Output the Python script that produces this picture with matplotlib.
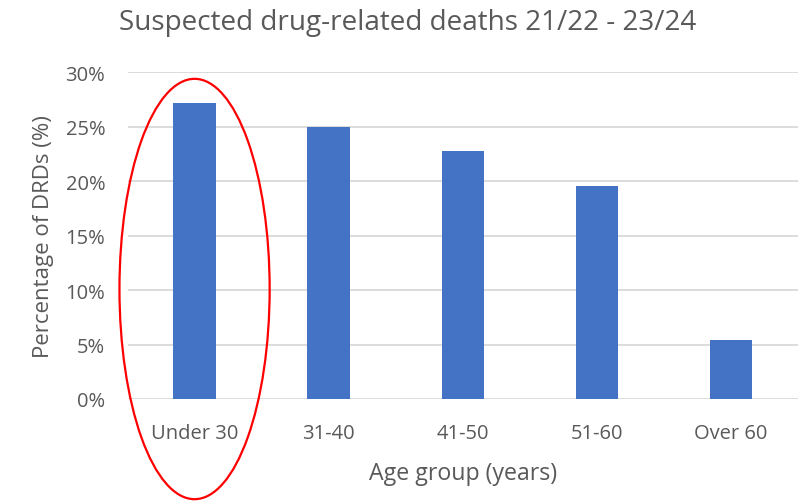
import matplotlib
matplotlib.use("Agg")
import matplotlib.pyplot as plt
from matplotlib.patches import Ellipse
from matplotlib.ticker import PercentFormatter

categories = ["Under 30", "31-40", "41-50", "51-60", "Over 60"]
values = [27.2, 25.0, 22.8, 19.6, 5.4]
yticks = [0, 5, 10, 15, 20, 25, 30]

plt.rcParams['font.family'] = ['Open Sans', 'DejaVu Sans']
grey = "#595959"

fig = plt.figure(figsize=(8.05, 5.02), dpi=100)
ax = fig.add_axes([0.1584, 0.2032, 0.8329, 0.6508])
x = list(range(len(categories)))
ax.bar(x, values, width=0.316, color="#4472C4", zorder=3)
ax.set_xlim(-0.5, len(categories) - 0.5)
ax.set_ylim(0, 30)
ax.set_yticks(yticks)
ax.yaxis.set_major_formatter(PercentFormatter(decimals=0))
ax.set_xticks(x)
ax.set_xticklabels(categories)
ax.grid(axis="y", color="#d9d9d9", linewidth=1.3, zorder=0)
for s in ax.spines.values():
    s.set_visible(False)
ax.tick_params(length=0, labelsize=14.5, colors=grey)
ax.tick_params(axis="x", pad=17)
ax.tick_params(axis="y", pad=16)
ax.set_xlabel("Age group (years)", fontsize=16.7, color=grey, labelpad=13)
ax.set_ylabel("Percentage of DRDs (%)", fontsize=16, color=grey, labelpad=8)
fig.text(0.506, 0.955, "Suspected drug-related deaths 21/22 - 23/24", ha="center", va="center",
         fontsize=20.1, color=grey)

ell = Ellipse((0, 10.1), width=1.12, height=38.6, fill=False, edgecolor="#FF0000",
              linewidth=1.6, clip_on=False, zorder=5)
ax.add_patch(ell)

fig.savefig("out.png", dpi=100)
